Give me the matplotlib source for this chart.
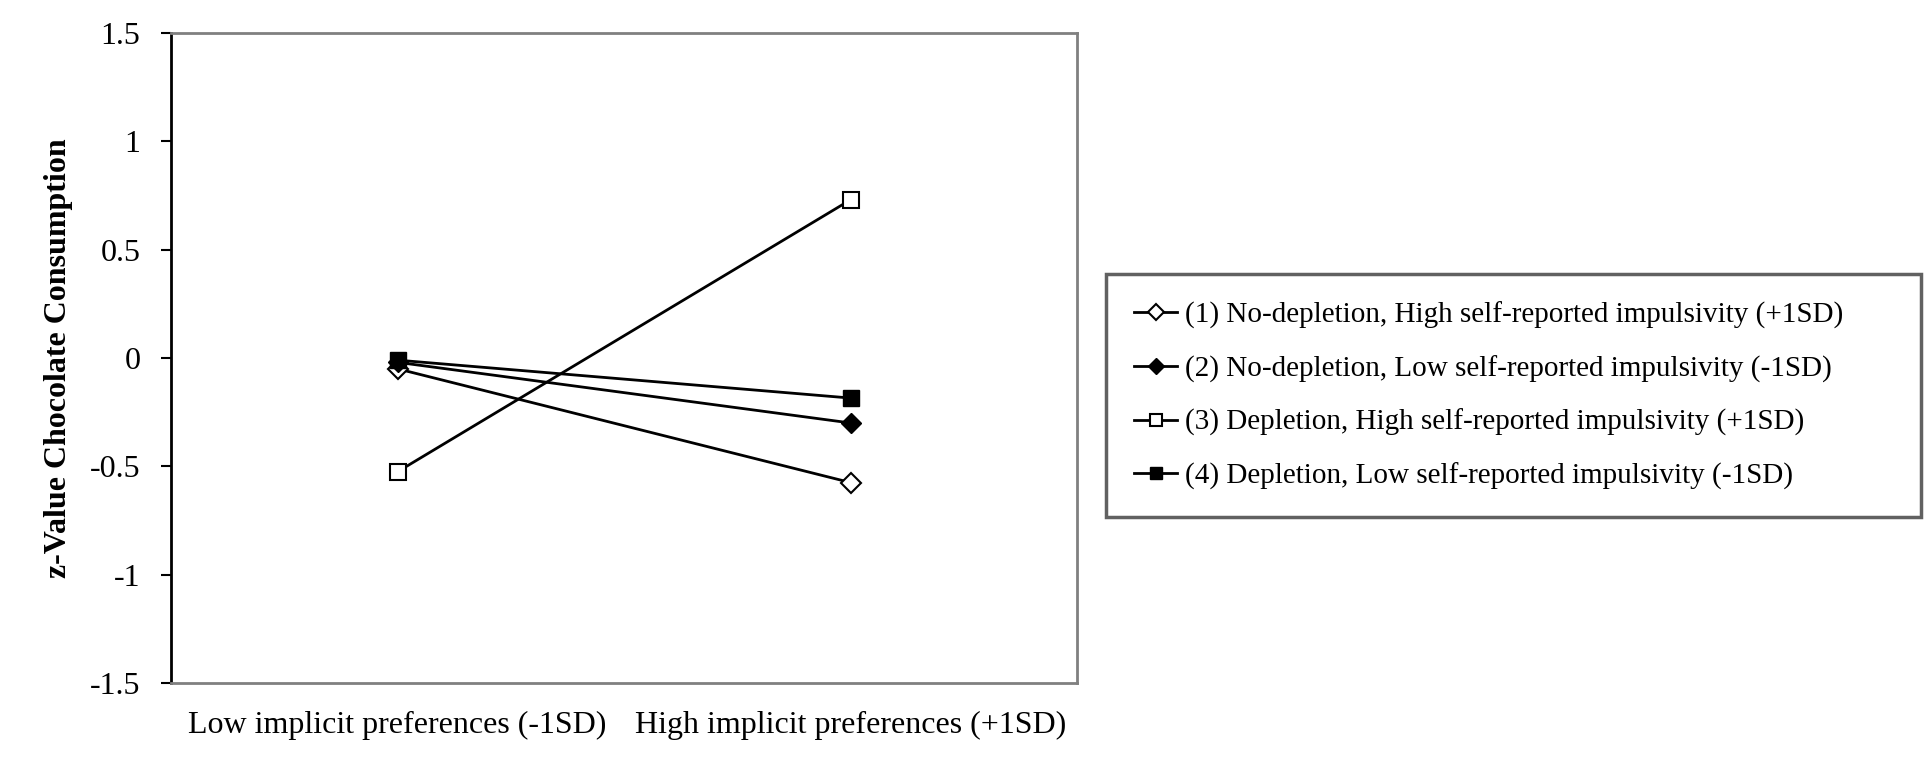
import matplotlib
matplotlib.use('Agg')
import matplotlib.pyplot as plt

# data
conditions = ['Low implicit preferences (-1SD)', 'High implicit preferences (+1SD)']
series_labels = ['(1) No-depletion, High self-reported impulsivity (+1SD)',
                 '(2) No-depletion, Low self-reported impulsivity (-1SD)',
                 '(3) Depletion, High self-reported impulsivity (+1SD)',
                 '(4) Depletion, Low self-reported impulsivity (-1SD)']
s1 = [-0.05, -0.575]
s2 = [-0.02, -0.30]
s3 = [-0.525, 0.73]
s4 = [-0.01, -0.185]
yticks = [-1.5, -1, -0.5, 0, 0.5, 1, 1.5]
ytick_labels = ['-1.5', '-1', '-0.5', '0', '0.5', '1', '1.5']

plt.rcParams['font.family'] = ['Liberation Serif', 'DejaVu Serif']

fig = plt.figure(figsize=(19.33, 7.74), dpi=100)
ax = fig.add_axes([0.0885, 0.1176, 0.4687, 0.8398])

x = range(len(conditions))
ax.plot(x, s1, color='black', lw=2, marker='D', ms=10, mfc='white', mec='black', mew=1.5, label=series_labels[0])
ax.plot(x, s2, color='black', lw=2, marker='D', ms=10, mfc='black', mec='black', label=series_labels[1])
ax.plot(x, s3, color='black', lw=2, marker='s', ms=11, mfc='white', mec='black', mew=1.5, label=series_labels[2])
ax.plot(x, s4, color='black', lw=2, marker='s', ms=11, mfc='black', mec='black', label=series_labels[3])

ax.set_xlim(-0.5, 1.5)
ax.set_ylim(-1.5, 1.5)
ax.set_yticks(yticks)
ax.set_yticklabels(ytick_labels, fontsize=23)
ax.set_xticks(list(x))
ax.set_xticklabels(conditions, fontsize=23)
ax.tick_params(axis='x', length=0, pad=20)
ax.tick_params(axis='y', length=7, width=1.5, pad=15, direction='out')
ax.set_ylabel('z-Value Chocolate Consumption', fontsize=23, fontweight='bold', labelpad=12)

for s in ['top', 'right', 'bottom']:
    ax.spines[s].set_color('#808080')
    ax.spines[s].set_linewidth(2)
ax.spines['left'].set_color('black')
ax.spines['left'].set_linewidth(2)

# legend box next to the plot area
x0 = 1106 / 1933
y1 = (774 - 274) / 774
w = (1921 - 1106) / 1933
leg = fig.legend(loc='upper left', bbox_to_anchor=(x0, y1 - 0.3, w, 0.3), mode='expand',
                 fontsize=21, frameon=True, fancybox=False, edgecolor='#3a3a3a',
                 handlelength=1.5, handletextpad=0.25, labelspacing=0.9,
                 borderpad=0.95, borderaxespad=0)
leg.get_frame().set_linewidth(2.5)
for h in leg.legend_handles:
    h.set_markersize(8)

fig.savefig('out.png', dpi=100)
